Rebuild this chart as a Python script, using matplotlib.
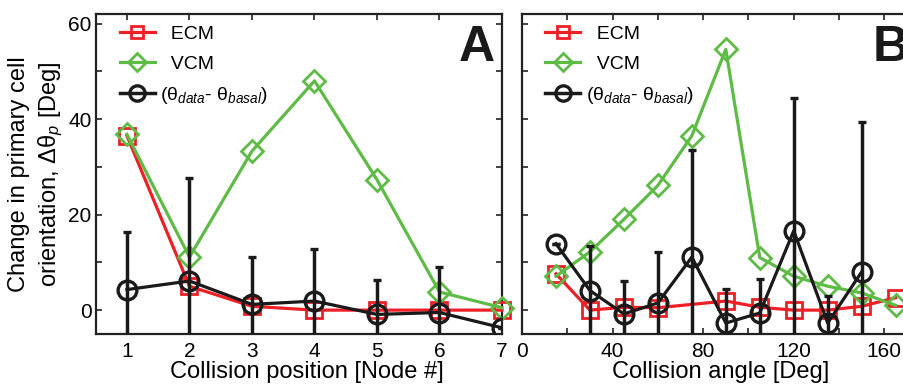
import matplotlib
matplotlib.use("Agg")
import matplotlib.pyplot as plt
from matplotlib.ticker import MultipleLocator
from matplotlib.lines import Line2D

plt.rcParams['font.family'] = ['Liberation Sans', 'DejaVu Sans']
plt.rcParams['mathtext.fontset'] = 'custom'
plt.rcParams['mathtext.rm'] = 'Liberation Sans'
plt.rcParams['mathtext.it'] = 'Liberation Sans:italic'

# ---- Panel A data ----
node_pos = [1, 2, 3, 4, 5, 6, 7]
ecm_a = [36.5, 5.0, 0.8, 0.0, 0.0, 0.0, 0.0]
vcm_a = [36.8, 11.1, 33.3, 48.0, 27.3, 3.8, 0.5]
data_a = [4.3, 6.1, 1.2, 1.9, -0.9, -0.5, -3.7]
err_a = [12.0, 21.6, 9.9, 10.8, 7.3, 9.5, 0.0]

# ---- Panel B data ----
ang_ecm = [15, 30, 45, 60, 90, 105, 120, 135, 150, 165]
ecm_b = [7.6, 0.0, 0.6, 0.5, 1.9, 0.6, 0.0, 0.0, 0.8, 2.6]
ang_vcm = [15, 30, 45, 60, 75, 90, 105, 120, 135, 150, 165]
vcm_b = [7.1, 12.2, 19.0, 26.1, 36.5, 54.6, 11.0, 7.1, 5.0, 3.6, 1.0]
ang_dat = [15, 30, 45, 60, 75, 90, 105, 120, 135, 150]
data_b = [13.9, 4.1, -0.8, 1.5, 11.1, -2.7, -0.6, 16.6, -2.7, 8.0]
err_b = [0.0, 9.3, 7.0, 10.7, 22.4, 7.2, 7.2, 27.9, 5.6, 31.3]

labels = ['  ECM', '  VCM', r'($\mathrm{\theta}_{data}$- $\mathrm{\theta}_{basal}$)']

RED = '#ED2026'
GREEN = '#5EBB46'
BLACK = '#1A1A1A'

W, H = 904, 386
fig = plt.figure(figsize=(W / 100, H / 100), dpi=100)
axA = fig.add_axes([95.7 / W, 1 - 334 / H, (502 - 95.7) / W, (334 - 14) / H])
axB = fig.add_axes([522 / W, 1 - 334 / H, (916 - 522) / W, (334 - 14) / H])


def draw(ax, xe, ye, xv, yv, xd, yd, ed):
    lw = 2.3
    ax.plot(xe, ye, color=RED, lw=lw, marker='s', ms=11, mfc='none',
            mec=RED, mew=2.0, zorder=3, clip_on=False)
    ax.plot(xv, yv, color=GREEN, lw=lw, marker='D', ms=11, mfc='none',
            mec=GREEN, mew=2.0, zorder=4, clip_on=False)
    ax.errorbar(xd, yd, yerr=ed, color=BLACK, lw=lw, marker='o', ms=13.5,
                mfc='none', mec=BLACK, mew=2.4, ecolor=BLACK, elinewidth=2.5,
                capsize=3, capthick=2.5, zorder=5)
    ax.set_ylim(-5, 62)
    ax.yaxis.set_major_locator(MultipleLocator(20))
    ax.yaxis.set_minor_locator(MultipleLocator(10))
    ax.tick_params(which='both', direction='in', top=True, right=True,
                   labelsize=15, width=1.2, color='#222222')
    ax.tick_params(which='major', length=4)
    ax.tick_params(which='minor', length=4)
    ax.tick_params(axis='x', pad=6)
    ax.tick_params(axis='y', pad=3)
    for s in ax.spines.values():
        s.set_linewidth(1.6)
        s.set_color('#222222')
    handles = [
        Line2D([], [], color=RED, lw=2.3, marker='s', ms=9, mfc='none', mec=RED, mew=2.0),
        Line2D([], [], color=GREEN, lw=2.3, marker='D', ms=9.5, mfc='none', mec=GREEN, mew=2.0),
        Line2D([], [], color=BLACK, lw=2.5, marker='o', ms=11, mfc='none', mec=BLACK, mew=2.4),
    ]
    ax.legend(handles, labels, loc='upper left', frameon=False, fontsize=14,
              handlelength=1.8, handletextpad=0.3, labelspacing=0.62,
              borderaxespad=0.2, bbox_to_anchor=(0.03, 1.0))


draw(axA, node_pos, ecm_a, node_pos, vcm_a, node_pos, data_a, err_a)
axA.set_xlim(0.5, 7)
axA.xaxis.set_major_locator(MultipleLocator(1))
axA.set_xlabel('Collision position [Node #]', fontsize=17, labelpad=0)
axA.xaxis.set_label_coords(0.52, -0.083, transform=axA.transAxes)
axA.xaxis.label.set_va('top')
axA.set_ylabel('Change in primary cell\norientation, $\\Delta\\mathrm{\\theta}_{p}$ [Deg]',
               fontsize=17, labelpad=2, linespacing=1.35)
axA.text(0.982, 0.965, 'A', transform=axA.transAxes, ha='right', va='top',
         fontsize=36, fontweight='bold', color=BLACK)

draw(axB, ang_ecm, ecm_b, ang_vcm, vcm_b, ang_dat, data_b, err_b)
axB.set_xlim(0, 174)
axB.xaxis.set_major_locator(MultipleLocator(40))
axB.xaxis.set_minor_locator(MultipleLocator(20))
axB.tick_params(axis='y', labelleft=False)
axB.set_xlabel('Collision angle [Deg]', fontsize=17, labelpad=0)
axB.xaxis.set_label_coords(0.503, -0.083, transform=axB.transAxes)
axB.xaxis.label.set_va('top')
axB.text(0.982, 0.965, 'B', transform=axB.transAxes, ha='right', va='top',
         fontsize=36, fontweight='bold', color=BLACK)

fig.savefig('out.png', dpi=100)
